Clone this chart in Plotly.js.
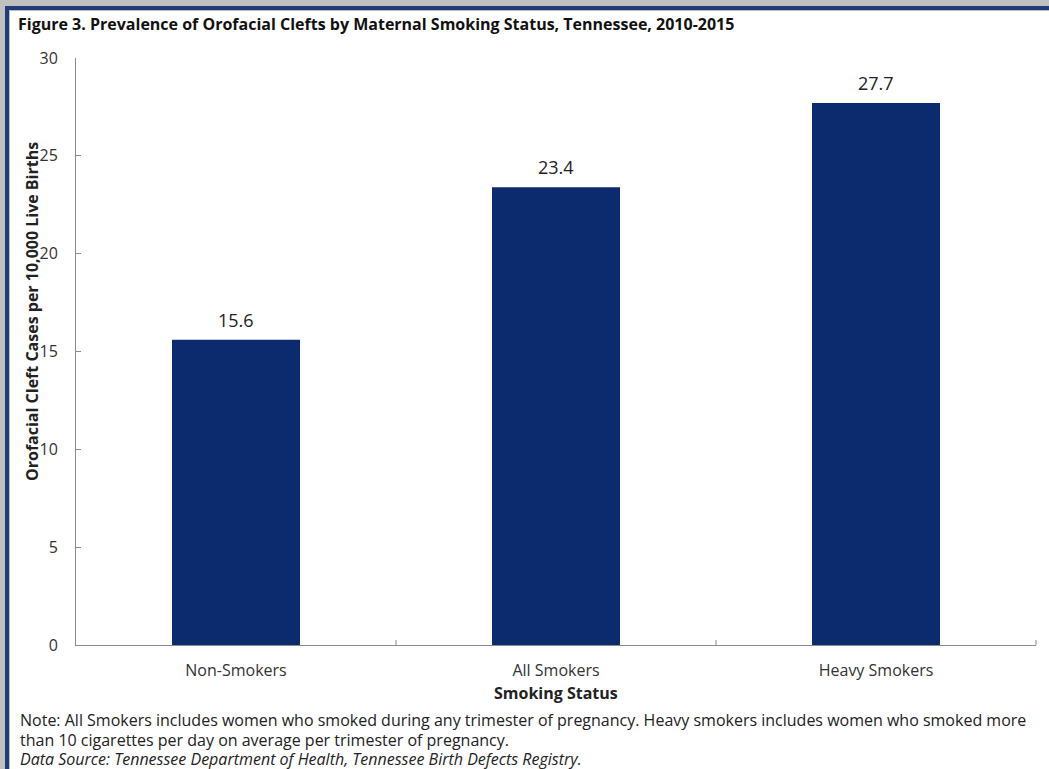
<!DOCTYPE html>
<html>
<head>
<meta charset="utf-8">
<script src="https://cdn.plot.ly/plotly-3.0.1.min.js"></script>
<style>
  html, body { margin: 0; padding: 0; background: #c0c0c0; width: 1049px; height: 769px; overflow: hidden; }
  #frame { position: absolute; left: 5px; top: 6px; width: 1050px; height: 770px;
           background: #ffffff; border-left: 4px solid #1f3b78; border-top: 4px solid #1f3b78;
           box-shadow: inset 1px 1px 0 #b8bcc8; }
  #chart { position: absolute; left: 0; top: 0; width: 1049px; height: 769px; }
</style>
</head>
<body>
<div id="frame"></div>
<div id="chart"></div>
<script>
const categories = ["Non-Smokers", "All Smokers", "Heavy Smokers"];
const prevalence = [15.6, 23.4, 27.7];
const yTicks = [0, 5, 10, 15, 20, 25, 30];

const chartTitle = "Figure 3. Prevalence of Orofacial Clefts by Maternal Smoking Status, Tennessee, 2010-2015";
const yTitle = "Orofacial Cleft Cases per 10,000 Live Births";
const xTitle = "Smoking Status";
const noteLine1 = "Note: All Smokers includes women who smoked during any trimester of pregnancy. Heavy smokers includes women who smoked more";
const noteLine2 = "than 10 cigarettes per day on average per trimester of pregnancy.";
const sourceLine = "<i>Data Source: Tennessee Department of Health, Tennessee Birth Defects Registry.</i>";

const W = 1049, H = 769;
const L = 76, R = 1036, T = 58, B = 645;
const px = x => (x - L) / (R - L);
const py = y => (B - y) / (B - T);

const FONT = "Open Sans, Noto Sans, sans-serif";
const textColor = "#222222";

const barTrace = {
  type: "bar",
  x: categories,
  y: prevalence,
  marker: { color: "#0c2a6e", line: { width: 0 } },
  hoverinfo: "none"
};

const labelAnnotations = categories.map((c, i) => ({
  x: c, y: prevalence[i], xref: "x", yref: "y",
  text: prevalence[i].toFixed(1),
  showarrow: false, yanchor: "bottom", yshift: 6,
  font: { family: FONT, size: 18, color: textColor }
}));

const textAnnotations = [
  { x: px(32), y: py(312), xref: "paper", yref: "paper", text: "<b>" + yTitle + "</b>",
    textangle: -90, showarrow: false, xanchor: "center", yanchor: "middle",
    font: { family: FONT, size: 16, color: textColor } },
  { x: 0.5, y: py(693), xref: "paper", yref: "paper", text: "<b>" + xTitle + "</b>",
    showarrow: false, xanchor: "center", yanchor: "middle",
    font: { family: FONT, size: 16, color: textColor } },
  { x: px(18), y: py(720), xref: "paper", yref: "paper", text: noteLine1,
    showarrow: false, xanchor: "left", yanchor: "middle", align: "left",
    font: { family: FONT, size: 16, color: textColor } },
  { x: px(18), y: py(740), xref: "paper", yref: "paper", text: noteLine2,
    showarrow: false, xanchor: "left", yanchor: "middle", align: "left",
    font: { family: FONT, size: 16, color: textColor } },
  { x: px(18), y: py(759), xref: "paper", yref: "paper", text: sourceLine,
    showarrow: false, xanchor: "left", yanchor: "middle", align: "left",
    font: { family: FONT, size: 16, color: textColor } }
];

const layout = {
  width: W, height: H,
  margin: { l: L, r: W - R, t: T, b: H - B, pad: 0 },
  paper_bgcolor: "rgba(0,0,0,0)",
  plot_bgcolor: "rgba(0,0,0,0)",
  showlegend: false,
  bargap: 0.6,
  title: {
    text: "<b>" + chartTitle + "</b>",
    x: 18 / W, xanchor: "left", xref: "container",
    y: 1 - 24 / H, yanchor: "middle", yref: "container",
    font: { family: FONT, size: 16, color: "#111111" }
  },
  xaxis: {
    type: "category",
    showline: true, linecolor: "#8c8c8c", linewidth: 1,
    ticks: "", showgrid: false, zeroline: false,
    tickfont: { family: FONT, size: 16, color: "#333333" },
    ticklabelstandoff: 11
  },
  yaxis: {
    range: [0, 30],
    tickvals: yTicks, ticktext: yTicks.map(String),
    showline: true, linecolor: "#8c8c8c", linewidth: 1,
    ticks: "inside", ticklen: 5, tickcolor: "#8c8c8c",
    showgrid: false, zeroline: false,
    tickfont: { family: FONT, size: 16, color: "#333333" },
    ticklabelstandoff: 14
  },
  shapes: [1, 2, 3].map(k => ({
    type: "line", xref: "paper", yref: "paper",
    x0: k / 3, x1: k / 3, y0: 0, y1: 5 / (B - T),
    line: { color: "#8c8c8c", width: 1 }
  })),
  annotations: labelAnnotations.concat(textAnnotations)
};

Plotly.newPlot("chart", [barTrace], layout, { displayModeBar: false, staticPlot: true });
</script>
</body>
</html>
